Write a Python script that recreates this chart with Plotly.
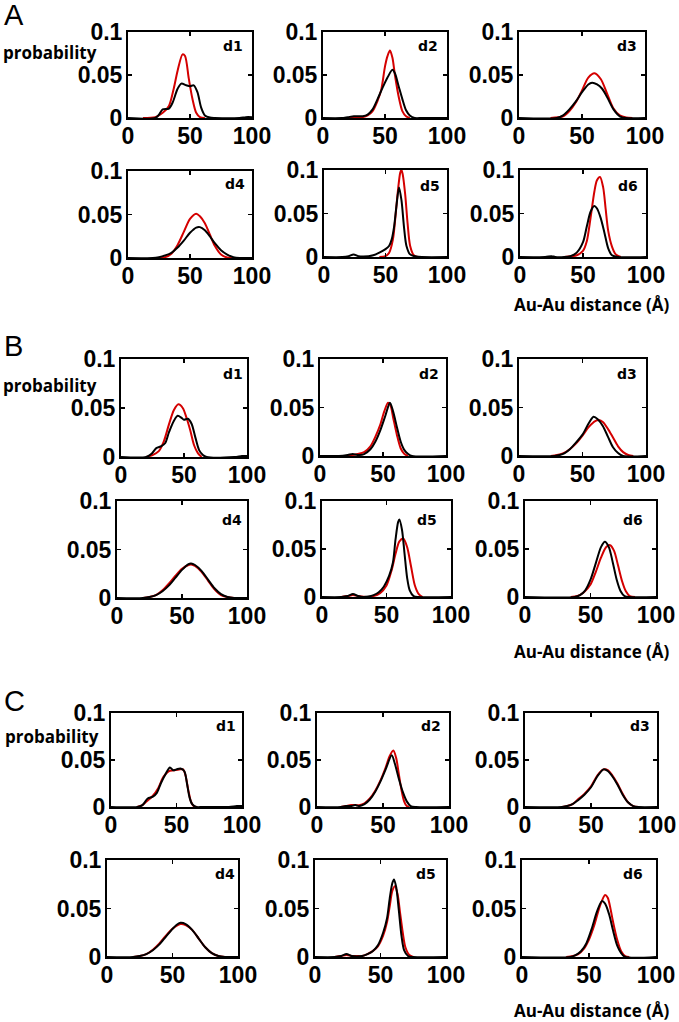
import plotly.graph_objects as go

# ---------------- tick values / labels ----------------
X_TICKS = [0, 50, 100]
X_TICK_TEXT = ["0", "50", "100"]
Y_TICKS = [0, 0.05, 0.1]
Y_TICK_TEXT = ["0", "0.05", "0.1"]
PANEL_LETTERS = ["A", "B", "C"]
DIST_NAMES = ["d1", "d2", "d3", "d4", "d5", "d6"]
Y_TITLE = "probability"
X_TITLE = "Au-Au distance (Å)"

# ---------------- Panel A ----------------
A_d1_red_x = [12, 22, 28, 33, 37, 40, 44, 46, 49, 52, 55, 58, 62]
A_d1_red_y = [0, 0.001, 0.006, 0.014, 0.035, 0.055, 0.074, 0.072, 0.046, 0.022, 0.006, 0.001, 0]
A_d1_blk_x = [0, 22, 25, 28, 33, 36, 40, 43, 47, 50, 53, 56, 59, 62, 66, 70, 90, 95, 100]
A_d1_blk_y = [0, 0, 0.004, 0.010, 0.011, 0.018, 0.034, 0.040, 0.038, 0.037, 0.038, 0.030, 0.012, 0.003, 0.0005, 0, 0, 0.001, 0.001]

A_d2_red_x = [20, 30, 36, 40, 44, 47, 50, 52, 54, 56, 58, 61, 64, 67, 70]
A_d2_red_y = [0, 0.0005, 0.003, 0.008, 0.020, 0.033, 0.060, 0.072, 0.0786, 0.070, 0.050, 0.025, 0.008, 0.002, 0]
A_d2_blk_x = [0, 15, 20, 25, 28, 32, 36, 40, 44, 48, 52, 56, 58, 61, 64, 67, 70, 74, 80, 100]
A_d2_blk_y = [0, 0, 0.001, 0.002, 0.002, 0.002, 0.004, 0.010, 0.022, 0.035, 0.047, 0.056, 0.052, 0.037, 0.022, 0.009, 0.003, 0, 0, 0]

A_d3_red_x = [25, 35, 40, 45, 50, 55, 60, 65, 70, 75, 80, 85, 90]
A_d3_red_y = [0, 0.002, 0.008, 0.018, 0.032, 0.047, 0.052, 0.045, 0.028, 0.011, 0.003, 0.0005, 0]
A_d3_blk_x = [0, 30, 35, 40, 45, 50, 55, 58, 62, 66, 70, 75, 80, 85, 100]
A_d3_blk_y = [0, 0, 0.003, 0.010, 0.019, 0.030, 0.039, 0.041, 0.039, 0.034, 0.024, 0.010, 0.002, 0, 0]

A_d4_red_x = [20, 30, 35, 40, 45, 50, 55, 58, 62, 66, 70, 75, 80, 85]
A_d4_red_y = [0, 0.001, 0.005, 0.015, 0.030, 0.045, 0.051, 0.048, 0.040, 0.027, 0.014, 0.004, 0.0005, 0]
A_d4_blk_x = [0, 20, 25, 30, 35, 40, 45, 50, 55, 58, 62, 66, 70, 75, 80, 85, 90, 100]
A_d4_blk_y = [0, 0, 0.001, 0.003, 0.006, 0.012, 0.020, 0.029, 0.035, 0.0355, 0.032, 0.025, 0.017, 0.009, 0.004, 0.001, 0, 0]

A_d5_red_x = [45, 50, 53, 56, 58, 60, 62, 63, 64, 66, 68, 70, 73, 76]
A_d5_red_y = [0, 0.001, 0.005, 0.020, 0.045, 0.075, 0.097, 0.100, 0.095, 0.072, 0.038, 0.013, 0.002, 0]
A_d5_blk_x = [0, 15, 20, 24, 28, 32, 40, 45, 50, 53, 55, 57, 59, 61, 63, 65, 67, 70, 75, 100]
A_d5_blk_y = [0, 0, 0.001, 0.003, 0.001, 0.0005, 0.002, 0.005, 0.009, 0.013, 0.020, 0.035, 0.060, 0.080, 0.065, 0.035, 0.013, 0.003, 0.0005, 0]

A_d6_red_x = [35, 45, 50, 53, 56, 59, 61, 63.5, 66, 68, 70, 73, 76, 80]
A_d6_red_y = [0, 0.002, 0.007, 0.018, 0.045, 0.075, 0.088, 0.092, 0.080, 0.055, 0.030, 0.012, 0.003, 0]
A_d6_blk_x = [0, 20, 25, 28, 35, 40, 45, 50, 53, 56, 59, 61, 64, 67, 70, 73, 78, 100]
A_d6_blk_y = [0, 0, 0.001, 0, 0, 0.001, 0.005, 0.017, 0.035, 0.052, 0.0585, 0.056, 0.045, 0.028, 0.010, 0.002, 0, 0]

# ---------------- Panel B ----------------
B_d1_red_x = [20, 25, 30, 34, 38, 42, 45.6, 49, 52, 55, 58, 61, 64]
B_d1_red_y = [0, 0.002, 0.006, 0.016, 0.033, 0.048, 0.0538, 0.050, 0.040, 0.027, 0.012, 0.004, 0]
B_d1_blk_x = [0, 20, 24, 28, 32, 35, 38, 42, 45, 48, 50, 53, 56, 59, 62, 65, 68, 90, 96, 100]
B_d1_blk_y = [0, 0, 0.003, 0.009, 0.011, 0.014, 0.025, 0.037, 0.042, 0.040, 0.038, 0.039, 0.034, 0.020, 0.007, 0.002, 0, 0, 0.001, 0.001]

B_d2_red_x = [20, 26, 30, 35, 40, 44, 48, 51, 54, 56, 58, 61, 64, 67, 70]
B_d2_red_y = [0, 0.001, 0.002, 0.004, 0.010, 0.020, 0.033, 0.046, 0.055, 0.052, 0.040, 0.022, 0.008, 0.002, 0]
B_d2_blk_x = [0, 15, 22, 26, 30, 35, 40, 44, 48, 52, 55.5, 58, 61, 64, 67, 70, 73, 100]
B_d2_blk_y = [0, 0, 0.001, 0.002, 0.001, 0.002, 0.007, 0.015, 0.027, 0.042, 0.055, 0.046, 0.030, 0.015, 0.006, 0.002, 0, 0]

B_d3_red_x = [25, 30, 35, 40, 45, 50, 55, 60, 63, 66, 70, 74, 78, 82, 86, 90]
B_d3_red_y = [0, 0.001, 0.003, 0.007, 0.013, 0.021, 0.030, 0.036, 0.037, 0.035, 0.028, 0.019, 0.010, 0.004, 0.001, 0]
B_d3_blk_x = [0, 28, 32, 36, 40, 45, 50, 55, 58.7, 62, 66, 70, 74, 78, 82, 100]
B_d3_blk_y = [0, 0, 0.001, 0.003, 0.007, 0.014, 0.022, 0.034, 0.0405, 0.038, 0.031, 0.020, 0.009, 0.003, 0, 0]

B_d4_red_x = [20, 25, 30, 35, 40, 45, 50, 55, 57, 60, 65, 70, 75, 80, 85, 90]
B_d4_red_y = [0, 0.001, 0.003, 0.008, 0.015, 0.023, 0.030, 0.034, 0.0345, 0.033, 0.027, 0.018, 0.009, 0.003, 0.001, 0]
B_d4_blk_x = [0, 20, 25, 30, 35, 40, 45, 50, 55, 57, 60, 65, 70, 75, 80, 85, 90, 100]
B_d4_blk_y = [0, 0, 0.001, 0.003, 0.007, 0.013, 0.021, 0.029, 0.035, 0.0356, 0.034, 0.028, 0.019, 0.010, 0.004, 0.001, 0, 0]

B_d5_red_x = [15, 20, 24, 28, 35, 40, 45, 50, 54, 57, 60, 63, 66, 69, 72, 75, 78]
B_d5_red_y = [0, 0.001, 0.002, 0.001, 0, 0.001, 0.004, 0.012, 0.028, 0.045, 0.058, 0.061, 0.052, 0.032, 0.012, 0.003, 0]
B_d5_blk_x = [0, 15, 20, 24, 28, 32, 36, 40, 44, 48, 52, 55, 57, 59, 60, 62, 64, 66, 68, 71, 75, 100]
B_d5_blk_y = [0, 0, 0.001, 0.003, 0.001, 0, 0.0005, 0.002, 0.005, 0.011, 0.022, 0.036, 0.060, 0.078, 0.0807, 0.070, 0.045, 0.020, 0.007, 0.001, 0, 0]

B_d6_red_x = [35, 40, 45, 50, 54, 58, 62, 65, 68, 71, 74, 77, 80, 84]
B_d6_red_y = [0, 0.001, 0.005, 0.013, 0.026, 0.041, 0.052, 0.054, 0.048, 0.033, 0.017, 0.006, 0.001, 0]
B_d6_blk_x = [0, 38, 42, 46, 50, 54, 58, 61, 64, 67, 70, 73, 76, 80, 100]
B_d6_blk_y = [0, 0, 0.002, 0.007, 0.018, 0.035, 0.052, 0.0576, 0.052, 0.036, 0.018, 0.006, 0.001, 0, 0]

# ---------------- Panel C ----------------
C_d1_red_x = [20, 24, 28, 32, 36, 40, 44, 48, 52, 55, 57, 59, 61, 63, 66]
C_d1_red_y = [0, 0.002, 0.007, 0.012, 0.020, 0.032, 0.038, 0.039, 0.040, 0.040, 0.033, 0.018, 0.006, 0.001, 0]
C_d1_blk_x = [0, 20, 24, 28, 32, 35, 38, 42, 45, 47.5, 50, 53, 56, 58, 60, 62, 65, 70, 90, 96, 100]
C_d1_blk_y = [0, 0, 0.002, 0.009, 0.011, 0.015, 0.025, 0.036, 0.042, 0.039, 0.040, 0.041, 0.038, 0.025, 0.010, 0.003, 0, 0, 0, 0.001, 0.001]

C_d2_red_x = [18, 22, 26, 29, 32, 36, 40, 44, 48, 52, 55, 57.8, 60, 62, 64, 66, 68, 70]
C_d2_red_y = [0, 0.001, 0.002, 0.002, 0.002, 0.004, 0.009, 0.017, 0.028, 0.042, 0.054, 0.060, 0.052, 0.035, 0.018, 0.006, 0.001, 0]
C_d2_blk_x = [0, 18, 22, 26, 29, 32, 36, 40, 44, 48, 52, 56.6, 59, 62, 65, 68, 71, 75, 100]
C_d2_blk_y = [0, 0, 0.001, 0.001, 0.002, 0.001, 0.003, 0.008, 0.016, 0.027, 0.040, 0.055, 0.046, 0.030, 0.016, 0.006, 0.001, 0, 0]

C_d3_red_x = [28, 32, 36, 40, 45, 50, 55, 59.5, 63, 66, 70, 74, 78, 82, 86]
C_d3_red_y = [0, 0.001, 0.003, 0.008, 0.014, 0.022, 0.034, 0.040, 0.039, 0.034, 0.025, 0.014, 0.005, 0.001, 0]
C_d3_blk_x = [0, 28, 32, 36, 40, 45, 50, 55, 59.5, 63, 66, 70, 74, 78, 82, 86, 100]
C_d3_blk_y = [0, 0, 0.001, 0.003, 0.007, 0.013, 0.021, 0.033, 0.040, 0.038, 0.033, 0.024, 0.013, 0.005, 0.001, 0, 0]

C_d4_red_x = [20, 25, 30, 35, 40, 45, 50, 53, 56, 60, 65, 70, 75, 80, 85, 90]
C_d4_red_y = [0, 0.001, 0.003, 0.0075, 0.014, 0.022, 0.029, 0.032, 0.034, 0.033, 0.028, 0.019, 0.010, 0.004, 0.001, 0]
C_d4_blk_x = [0, 20, 25, 30, 35, 40, 45, 50, 53, 56, 60, 65, 70, 75, 80, 85, 90, 100]
C_d4_blk_y = [0, 0, 0.001, 0.003, 0.007, 0.013, 0.021, 0.029, 0.033, 0.0352, 0.034, 0.028, 0.019, 0.010, 0.004, 0.001, 0, 0]

C_d5_red_x = [15, 20, 24, 28, 32, 36, 40, 44, 48, 52, 55, 57, 59, 61, 63, 65, 67, 69, 72, 75]
C_d5_red_y = [0, 0.001, 0.002, 0.001, 0.001, 0.001, 0.003, 0.006, 0.011, 0.022, 0.036, 0.052, 0.068, 0.073, 0.065, 0.045, 0.025, 0.010, 0.002, 0]
C_d5_blk_x = [0, 15, 20, 24, 28, 32, 36, 40, 44, 48, 52, 55, 57, 59, 60.3, 62, 64, 66, 68, 71, 75, 100]
C_d5_blk_y = [0, 0, 0.001, 0.003, 0.001, 0.0005, 0.001, 0.003, 0.006, 0.012, 0.025, 0.040, 0.060, 0.076, 0.080, 0.072, 0.048, 0.022, 0.007, 0.001, 0, 0]

C_d6_red_x = [33, 38, 42, 46, 50, 54, 58, 62, 64, 66, 68, 71, 74, 77, 80]
C_d6_red_y = [0, 0.001, 0.003, 0.008, 0.018, 0.033, 0.052, 0.064, 0.061, 0.050, 0.036, 0.018, 0.006, 0.001, 0]
C_d6_blk_x = [0, 36, 40, 44, 48, 52, 56, 59.6, 62, 65, 68, 71, 74, 77, 100]
C_d6_blk_y = [0, 0, 0.002, 0.006, 0.014, 0.029, 0.047, 0.0576, 0.055, 0.044, 0.027, 0.012, 0.004, 0, 0]

SERIES = [
    (A_d1_red_x, A_d1_red_y, A_d1_blk_x, A_d1_blk_y),
    (A_d2_red_x, A_d2_red_y, A_d2_blk_x, A_d2_blk_y),
    (A_d3_red_x, A_d3_red_y, A_d3_blk_x, A_d3_blk_y),
    (A_d4_red_x, A_d4_red_y, A_d4_blk_x, A_d4_blk_y),
    (A_d5_red_x, A_d5_red_y, A_d5_blk_x, A_d5_blk_y),
    (A_d6_red_x, A_d6_red_y, A_d6_blk_x, A_d6_blk_y),
    (B_d1_red_x, B_d1_red_y, B_d1_blk_x, B_d1_blk_y),
    (B_d2_red_x, B_d2_red_y, B_d2_blk_x, B_d2_blk_y),
    (B_d3_red_x, B_d3_red_y, B_d3_blk_x, B_d3_blk_y),
    (B_d4_red_x, B_d4_red_y, B_d4_blk_x, B_d4_blk_y),
    (B_d5_red_x, B_d5_red_y, B_d5_blk_x, B_d5_blk_y),
    (B_d6_red_x, B_d6_red_y, B_d6_blk_x, B_d6_blk_y),
    (C_d1_red_x, C_d1_red_y, C_d1_blk_x, C_d1_blk_y),
    (C_d2_red_x, C_d2_red_y, C_d2_blk_x, C_d2_blk_y),
    (C_d3_red_x, C_d3_red_y, C_d3_blk_x, C_d3_blk_y),
    (C_d4_red_x, C_d4_red_y, C_d4_blk_x, C_d4_blk_y),
    (C_d5_red_x, C_d5_red_y, C_d5_blk_x, C_d5_blk_y),
    (C_d6_red_x, C_d6_red_y, C_d6_blk_x, C_d6_blk_y),
]

# ---------------- layout (pixels) ----------------
W, H = 679, 1022
# (left, right, top, bottom) of each plot box
BOXES = [
    (128, 252, 32, 118), (323, 447, 32, 118), (519, 645, 32, 118),
    (128, 252, 171, 258), (324, 447, 170, 257), (520, 646, 170, 257),
    (121, 247, 359, 457), (320, 446, 359, 456), (519, 646, 359, 456),
    (117, 247, 501, 598), (322, 451, 501, 597), (525, 656, 501, 597),
    (111, 242, 713, 807), (317, 449, 713, 807), (525, 657, 713, 807),
    (107, 238, 860, 957), (315, 446, 860, 957), (522, 656, 860, 957),
]
# (right, top) of each dN label glyphs
DLABEL_POS = [
    (245, 39), (440, 39), (639, 39), (247, 177), (442, 179), (640, 179),
    (245, 367), (441, 367), (639, 367), (244, 513), (439, 513), (645, 513),
    (238, 719), (443, 719), (652, 719), (237, 867), (438, 867), (645, 867),
]
LETTER_POS = [(14, 15), (13, 346), (14, 701)]
YTITLE_POS = [(50, 53), (50, 386), (52, 736)]
XTITLE_POS = [(592, 304), (592, 651), (592, 1010)]

RED = "#d40000"
BLACK = "#000000"

fig = go.Figure()

tickfont = dict(family="Liberation Sans, Arial, sans-serif", size=23, color="black", weight="bold")
axis_common = dict(
    showline=True, linecolor="black", linewidth=2, mirror="ticks",
    ticks="inside", ticklen=4, tickwidth=1.5, tickcolor="black",
    showgrid=False, zeroline=False, tickfont=tickfont, fixedrange=True,
    automargin=False,
)

layout = dict(
    template="none",
    width=W, height=H, autosize=False,
    margin=dict(l=0, r=0, t=0, b=0, pad=0, autoexpand=False),
    paper_bgcolor="white", plot_bgcolor="white", showlegend=False,
)

for i, (box, ser) in enumerate(zip(BOXES, SERIES)):
    n = i + 1
    left, right, top, bottom = box
    xa = "xaxis" if n == 1 else f"xaxis{n}"
    ya = "yaxis" if n == 1 else f"yaxis{n}"
    xr = "x" if n == 1 else f"x{n}"
    yr = "y" if n == 1 else f"y{n}"
    layout[xa] = dict(
        axis_common, domain=[left / W, right / W], range=[0, 100], anchor=yr,
        tickvals=X_TICKS, ticktext=X_TICK_TEXT, ticklabelstandoff=-4,
    )
    layout[ya] = dict(
        axis_common, domain=[1 - bottom / H, 1 - top / H], range=[0, 0.1], anchor=xr,
        tickvals=Y_TICKS, ticktext=Y_TICK_TEXT, ticklabelstandoff=-1,
    )
    rx, ry, bx, by = ser
    fig.add_trace(go.Scatter(x=rx, y=ry, mode="lines", xaxis=xr, yaxis=yr,
                             line=dict(color=RED, width=2, shape="spline", smoothing=0.8),
                             hoverinfo="skip"))
    fig.add_trace(go.Scatter(x=bx, y=by, mode="lines", xaxis=xr, yaxis=yr,
                             line=dict(color=BLACK, width=2, shape="spline", smoothing=0.8),
                             hoverinfo="skip"))

annotations = []
for i, (rx, ty) in enumerate(DLABEL_POS):
    annotations.append(dict(
        text=DIST_NAMES[i % 6], xref="paper", yref="paper",
        x=rx / W, y=1 - (ty - 3) / H, xanchor="right", yanchor="top", showarrow=False,
        font=dict(family="DejaVu Sans, sans-serif", size=14, color="black", weight="bold"),
    ))
for p in range(3):
    lx, ly = LETTER_POS[p]
    annotations.append(dict(
        text=PANEL_LETTERS[p], xref="paper", yref="paper", x=lx / W, y=1 - ly / H,
        xanchor="center", yanchor="middle", showarrow=False,
        font=dict(family="Liberation Sans, Arial, sans-serif", size=29, color="black"),
    ))
    tx, ty = YTITLE_POS[p]
    annotations.append(dict(
        text=Y_TITLE, xref="paper", yref="paper", x=tx / W, y=1 - ty / H,
        xanchor="center", yanchor="middle", showarrow=False,
        font=dict(family="Open Sans, sans-serif", size=17, color="black", weight="bold"),
    ))
    ax_, ay_ = XTITLE_POS[p]
    annotations.append(dict(
        text=X_TITLE, xref="paper", yref="paper", x=ax_ / W, y=1 - ay_ / H,
        xanchor="center", yanchor="middle", showarrow=False,
        font=dict(family="Open Sans, sans-serif", size=17, color="black", weight="bold"),
    ))
layout["annotations"] = annotations

fig.update_layout(**layout)
fig.write_html(
    "out.html",
    config={"displayModeBar": False, "staticPlot": True},
    post_script="document.body.style.margin='0';document.body.style.padding='0';",
)
